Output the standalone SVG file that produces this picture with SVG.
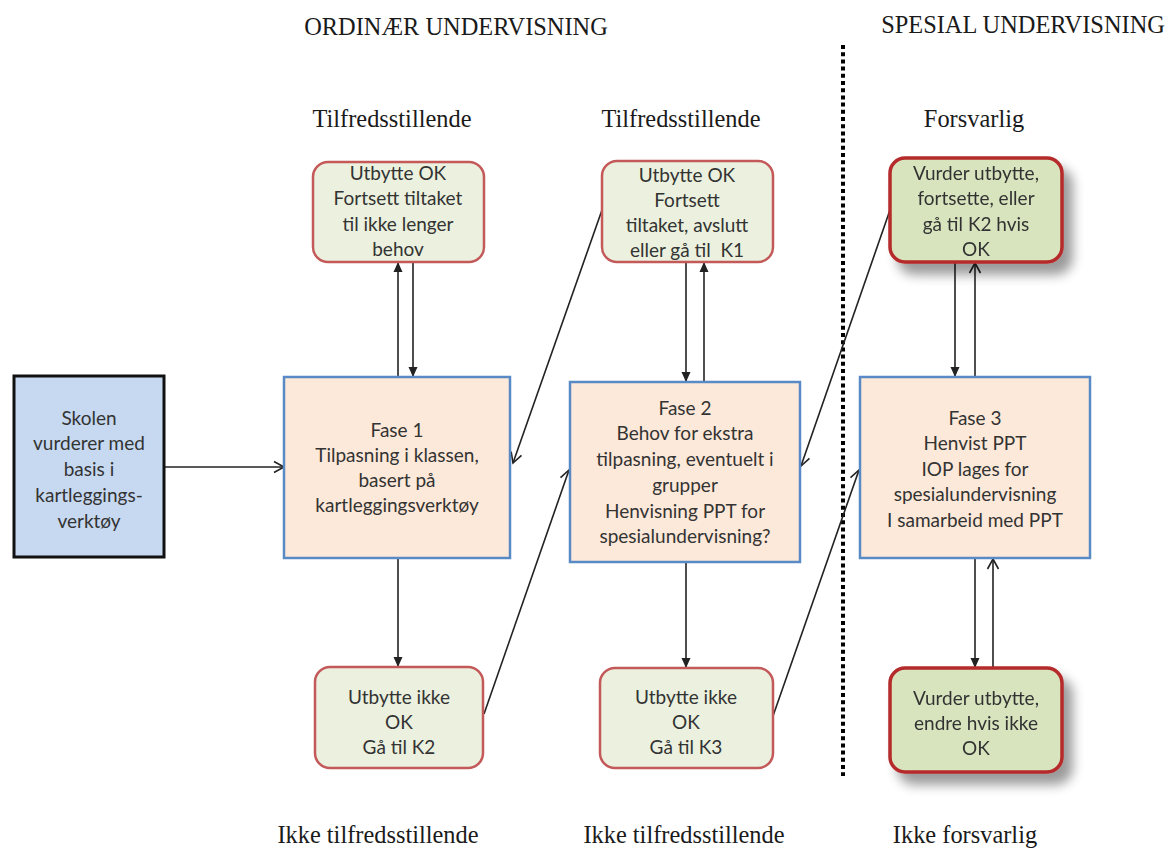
<svg xmlns="http://www.w3.org/2000/svg" width="1171" height="848" viewBox="0 0 1171 848">
<style>
.hdr{font-family:"Liberation Serif","Times New Roman",serif;font-size:24.4px;fill:#1a1a1a;text-anchor:middle}
.t{font-family:Lato,"Open Sans",sans-serif;font-size:19px;fill:#333333;text-anchor:middle}
.start{fill:#c6d9f1;stroke:#111;stroke-width:3}
.fase{fill:#fde9d9;stroke:#5a8ac6;stroke-width:2.5}
.res{fill:#ebf1de;stroke:#c4595a;stroke-width:2.5}
.res3{fill:#d7e4bd;stroke:#b52a2a;stroke-width:3.5}
.c{stroke:#222;stroke-width:1.6;fill:none}
.f{marker-end:url(#tri)}
.o{marker-end:url(#open)}
</style>
<defs>
<marker id="tri" markerWidth="11" markerHeight="11" refX="9" refY="5.5" orient="auto" markerUnits="userSpaceOnUse">
<path d="M0,1 L10,5.5 L0,10 Z" fill="#222"/>
</marker>
<marker id="open" markerWidth="14" markerHeight="14" refX="11" refY="7" orient="auto" markerUnits="userSpaceOnUse">
<path d="M1,1.5 L11,7 L1,12.5" fill="none" stroke="#222" stroke-width="1.6"/>
</marker>
<filter id="sh" x="-20%" y="-20%" width="150%" height="170%">
<feGaussianBlur in="SourceAlpha" stdDeviation="6"/>
<feOffset dx="9" dy="11" result="b"/>
<feComponentTransfer><feFuncA type="linear" slope="0.4"/></feComponentTransfer>
<feMerge><feMergeNode/><feMergeNode in="SourceGraphic"/></feMerge>
</filter>
</defs>
<rect width="1171" height="848" fill="#ffffff"/>

<g id="headers">
<text class="hdr" x="456" y="35">ORDINÆR UNDERVISNING</text>
<text class="hdr" x="1023" y="33">SPESIAL UNDERVISNING</text>
<text class="hdr" x="392" y="127">Tilfredsstillende</text>
<text class="hdr" x="681" y="127">Tilfredsstillende</text>
<text class="hdr" x="974" y="127">Forsvarlig</text>
<text class="hdr" x="378" y="843">Ikke tilfredsstillende</text>
<text class="hdr" x="684" y="843">Ikke tilfredsstillende</text>
<text class="hdr" x="965" y="843">Ikke forsvarlig</text>
</g>

<g id="divider">
<line x1="843" y1="45" x2="843" y2="776" stroke="#000" stroke-width="4" stroke-dasharray="4 3.2"/>
</g>

<g id="connectors">
<line class="c o" x1="165" y1="467" x2="284" y2="467"/>
<line class="c f" x1="398" y1="377" x2="398" y2="263"/>
<line class="c f" x1="413" y1="262" x2="413" y2="376"/>
<line class="c f" x1="398" y1="558" x2="398" y2="666"/>
<line class="c f" x1="686" y1="262" x2="686" y2="381"/>
<line class="c f" x1="704" y1="382" x2="704" y2="263"/>
<line class="c f" x1="686" y1="562" x2="686" y2="667"/>
<line class="c f" x1="955" y1="262" x2="955" y2="376"/>
<line class="c o" x1="975" y1="377" x2="975" y2="263"/>
<line class="c f" x1="975" y1="558" x2="975" y2="667"/>
<line class="c o" x1="993" y1="668" x2="993" y2="559"/>
<line class="c o" x1="602" y1="210" x2="513" y2="463"/>
<line class="c o" x1="484" y1="714" x2="569" y2="470"/>
<line class="c o" x1="890" y1="210" x2="801" y2="466"/>
<line class="c o" x1="773" y1="716" x2="859" y2="470"/>
</g>

<g id="start">
<rect class="start" x="14" y="376" width="150" height="181"/>
<text class="t"><tspan x="89" y="425">Skolen</tspan><tspan x="89" y="450">vurderer med</tspan><tspan x="89" y="476">basis i</tspan><tspan x="89" y="502">kartleggings-</tspan><tspan x="89" y="528">verktøy</tspan></text>
</g>

<g id="fase1">
<rect class="fase" x="284" y="377" width="226" height="181"/>
<text class="t"><tspan x="397" y="437">Fase 1</tspan><tspan x="397" y="462">Tilpasning i klassen,</tspan><tspan x="397" y="487">basert på</tspan><tspan x="397" y="512">kartleggingsverktøy</tspan></text>
</g>

<g id="fase2">
<rect class="fase" x="570" y="382" width="230" height="180"/>
<text class="t"><tspan x="685" y="415">Fase 2</tspan><tspan x="685" y="440">Behov for ekstra</tspan><tspan x="685" y="466">tilpasning, eventuelt i</tspan><tspan x="685" y="492">grupper</tspan><tspan x="685" y="518">Henvisning PPT for</tspan><tspan x="685" y="543">spesialundervisning?</tspan></text>
</g>

<g id="fase3">
<rect class="fase" x="860" y="377" width="230" height="181"/>
<text class="t"><tspan x="975" y="425">Fase 3</tspan><tspan x="975" y="450">Henvist PPT</tspan><tspan x="975" y="476">IOP lages for</tspan><tspan x="975" y="501">spesialundervisning</tspan><tspan x="975" y="527">I samarbeid med PPT</tspan></text>
</g>

<g id="ok1">
<rect class="res" x="313" y="162" width="171" height="100" rx="15"/>
<text class="t"><tspan x="398" y="180">Utbytte OK</tspan><tspan x="398" y="205">Fortsett tiltaket</tspan><tspan x="398" y="231">til ikke lenger</tspan><tspan x="398" y="256">behov</tspan></text>
</g>

<g id="ok2">
<rect class="res" x="602" y="161" width="171" height="101" rx="15"/>
<text class="t"><tspan x="687" y="182">Utbytte OK</tspan><tspan x="687" y="207">Fortsett</tspan><tspan x="687" y="232">tiltaket, avslutt</tspan><tspan x="687" y="257">eller gå til&#160; K1</tspan></text>
</g>

<g id="ok3" filter="url(#sh)">
<rect class="res3" x="890" y="158" width="172" height="104" rx="15"/>
<text class="t"><tspan x="976" y="180">Vurder utbytte,</tspan><tspan x="976" y="205">fortsette, eller</tspan><tspan x="976" y="231">gå til K2 hvis</tspan><tspan x="976" y="256">OK</tspan></text>
</g>

<g id="notok1">
<rect class="res" x="315" y="667" width="168" height="101" rx="15"/>
<text class="t"><tspan x="399" y="704">Utbytte ikke</tspan><tspan x="399" y="729">OK</tspan><tspan x="399" y="754">Gå til K2</tspan></text>
</g>

<g id="notok2">
<rect class="res" x="600" y="668" width="173" height="100" rx="15"/>
<text class="t"><tspan x="686" y="704">Utbytte ikke</tspan><tspan x="686" y="729">OK</tspan><tspan x="686" y="754">Gå til K3</tspan></text>
</g>

<g id="notok3" filter="url(#sh)">
<rect class="res3" x="890" y="668" width="172" height="104" rx="15"/>
<text class="t"><tspan x="976" y="705">Vurder utbytte,</tspan><tspan x="976" y="730">endre hvis ikke</tspan><tspan x="976" y="755">OK</tspan></text>
</g>
</svg>
